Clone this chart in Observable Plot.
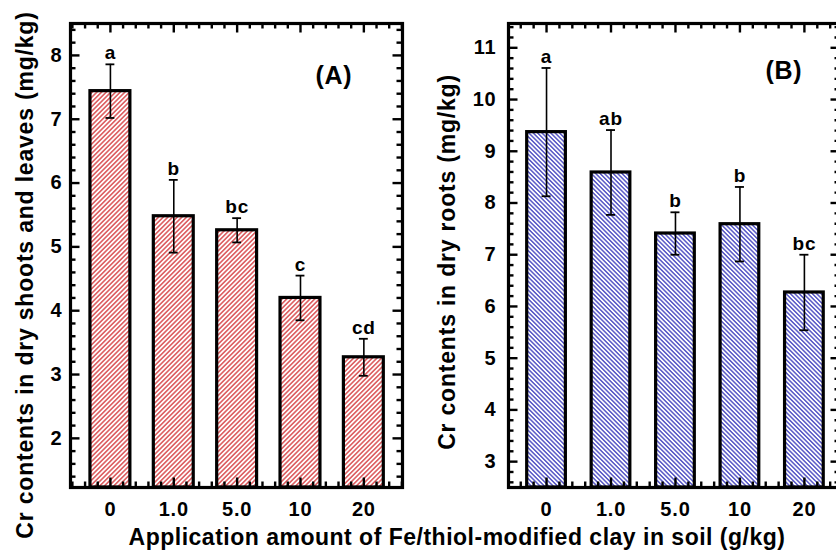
<!DOCTYPE html>
<html>
<head>
<meta charset="utf-8">
<script src="https://cdn.jsdelivr.net/npm/d3@7"></script>
<script src="https://cdn.jsdelivr.net/npm/@observablehq/plot@0.6"></script>
<style>
  html, body { margin: 0; padding: 0; background: white; }
  #wrap { position: relative; width: 836px; height: 551px; overflow: hidden; background: white;
          font-family: "Liberation Sans", Arial, sans-serif; font-weight: bold; color: black; }
  .panel { position: absolute; top: 0; }
  .panel svg { max-width: none !important; display: block; }
  .lab { position: absolute; white-space: nowrap; line-height: 1; }
</style>
</head>
<body>
<div id="wrap"></div>
<script>
// ---- data ----
const concLabels = ["0", "1.0", "5.0", "10", "20"];
const shootMean = [7.44, 5.48, 5.26, 4.20, 3.27];
const shootErr = [0.42, 0.57, 0.19, 0.35, 0.29];
const shootLetters = ["a", "b", "bc", "c", "cd"];
const rootMean = [9.37, 8.59, 7.41, 7.59, 6.27];
const rootErr = [1.24, 0.82, 0.41, 0.72, 0.73];
const rootLetters = ["a", "ab", "b", "b", "bc"];
const shootTicks = [2, 3, 4, 5, 6, 7, 8];
const rootTicks = [3, 4, 5, 6, 7, 8, 9, 10, 11];
const xTitle = "Application amount of Fe/thiol-modified clay in soil (g/kg)";
const yTitleA = "Cr contents in dry shoots and leaves (mg/kg)";
const yTitleB = "Cr contents in dry roots (mg/kg)";

const wrap = document.getElementById("wrap");
const NS = "http://www.w3.org/2000/svg";

function addPattern(svg, id, color, angle, size, lw) {
  const defs = document.createElementNS(NS, "defs");
  defs.innerHTML = `<pattern id="${id}" patternUnits="userSpaceOnUse" width="${size}" height="${size}" patternTransform="rotate(${angle})">
    <rect width="${size}" height="${size}" fill="white"/>
    <line x1="${size/2}" y1="0" x2="${size/2}" y2="${size}" stroke="${color}" stroke-width="${lw}"/></pattern>`;
  svg.insertBefore(defs, svg.firstChild);
}

function panel(o) {
  const rows = o.mean.map((m, i) => ({i, mean: m, err: o.err[i], letter: o.letters[i], label: concLabels[i]}));
  const H = 551, mt = 23, mb = 64;
  const fw = o.width - o.marginLeft - o.marginRight;
  const fh = H - mt - mb;
  const [y0, y1] = o.yDomain;
  const [x0, x1] = o.xDomain;
  const kx = (x1 - x0) / fw;   // data units per pixel (x)
  const ky = (y1 - y0) / fh;   // data units per pixel (y)
  const majorY = o.ticks;
  const minorY = d3.range(Math.ceil(y0 * 5), Math.floor(y1 * 5) + 1).map(v => v / 5).filter(v => Math.abs(v - Math.round(v)) > 1e-6);
  const majorX = rows.map(d => d.i);
  const minorX = d3.range(Math.ceil(x0 * 5), Math.floor(x1 * 5) + 1).map(v => v / 5).filter(v => Math.abs(v - Math.round(v)) > 1e-6);
  const caps = rows.flatMap(d => [{i: d.i, y: d.mean + d.err}, {i: d.i, y: d.mean - d.err}]);
  const MJ = 9.5, MN = 5.5, TW = 2.4;
  const yTicks = (vals, len) => [
    Plot.ruleY(vals, {y: d => d, x1: x0, x2: x0 + len * kx, strokeWidth: TW}),
    Plot.ruleY(vals, {y: d => d, x1: x1, x2: x1 - len * kx, strokeWidth: TW})
  ];
  const xTicks = (vals, len) => [
    Plot.ruleX(vals, {x: d => d, y1: y0, y2: y0 + len * ky, strokeWidth: TW}),
    Plot.ruleX(vals, {x: d => d, y1: y1, y2: y1 - len * ky, strokeWidth: TW})
  ];
  const svg = Plot.plot({
    width: o.width, height: H,
    marginLeft: o.marginLeft, marginRight: o.marginRight, marginTop: mt, marginBottom: mb,
    x: {domain: o.xDomain, axis: null},
    y: {domain: o.yDomain, axis: null},
    style: {fontFamily: "Liberation Sans, Arial, sans-serif", fontWeight: "bold", background: "transparent", overflow: "visible", color: "black"},
    marks: [
      Plot.rectY(rows, {x1: d => d.i - o.halfW, x2: d => d.i + o.halfW, y1: y0, y2: "mean",
        fill: `url(#${o.pid})`, stroke: "black", strokeWidth: 3.2}),
      ...yTicks(majorY, MJ), ...yTicks(minorY, MN),
      ...xTicks(majorX, MJ), ...xTicks(minorX, MN),
      Plot.frame({stroke: "black", strokeWidth: 3.2}),
      // error bars
      Plot.ruleX(rows, {x: "i", y1: d => d.mean - d.err, y2: d => d.mean + d.err, strokeWidth: 1.6}),
      Plot.ruleY(caps, {y: "y", x1: d => d.i - 0.07, x2: d => d.i + 0.07, strokeWidth: 1.8}),
      // significance letters
      Plot.text(rows, {x: "i", y: d => d.mean + d.err, text: "letter", lineAnchor: "bottom", dy: -5, fontSize: 19}),
      // tick labels
      Plot.text(rows, {x: "i", text: "label", frameAnchor: "bottom", lineAnchor: "middle", dy: 22, fontSize: 20}),
      Plot.text(majorY, {y: d => d, text: d => String(d), frameAnchor: "left", textAnchor: "end", dx: o.labelDx, fontSize: 20}),
      // panel tag
      Plot.text([o.tag], {text: d => d, frameAnchor: "top-right", textAnchor: "end", lineAnchor: "middle", dx: o.tagDx, dy: o.tagDy, fontSize: 25})
    ]
  });
  svg.style.letterSpacing = "0.8px";
  svg.style.maxWidth = "none";
  addPattern(svg, o.pid, o.color, o.angle, o.psize, o.plw);
  const div = document.createElement("div");
  div.className = "panel";
  div.style.left = o.left + "px";
  div.style.width = o.width + "px";
  div.appendChild(svg);
  wrap.appendChild(div);
}

panel({mean: shootMean, err: shootErr, letters: shootLetters, ticks: shootTicks,
  yDomain: [1.23, 8.5], xDomain: [-0.63, 4.61], halfW: 0.315,
  width: 420, marginLeft: 70, marginRight: 18, left: 0,
  pid: "hatchA", color: "#d4383c", angle: 45, psize: 3.3, plw: 1.3,
  labelDx: -8, tag: "(A)", tagDx: -50, tagDy: 52});

panel({mean: rootMean, err: rootErr, letters: rootLetters, ticks: rootTicks,
  yDomain: [2.5, 11.47], xDomain: [-0.59, 4.56], halfW: 0.30,
  width: 424, marginLeft: 88, marginRight: 4, left: 420,
  pid: "hatchB", color: "#3030b8", angle: -45, psize: 3.1, plw: 1.2,
  labelDx: -12, tag: "(B)", tagDx: -38, tagDy: 47});

function label(text, cx, cy, size, rotate, ls) {
  const d = document.createElement("div");
  d.className = "lab";
  d.textContent = text;
  d.style.fontSize = size + "px";
  d.style.letterSpacing = ls + "px";
  d.style.left = cx + "px";
  d.style.top = cy + "px";
  d.style.transform = `translate(-50%, -50%)${rotate ? " rotate(-90deg)" : ""}`;
  wrap.appendChild(d);
}
label(xTitle, 457, 537, 23, false, 0.5);
label(yTitleA, 25, 275, 23, true, 0.8);
label(yTitleB, 447, 262, 23, true, 0.8);
</script>
</body>
</html>
